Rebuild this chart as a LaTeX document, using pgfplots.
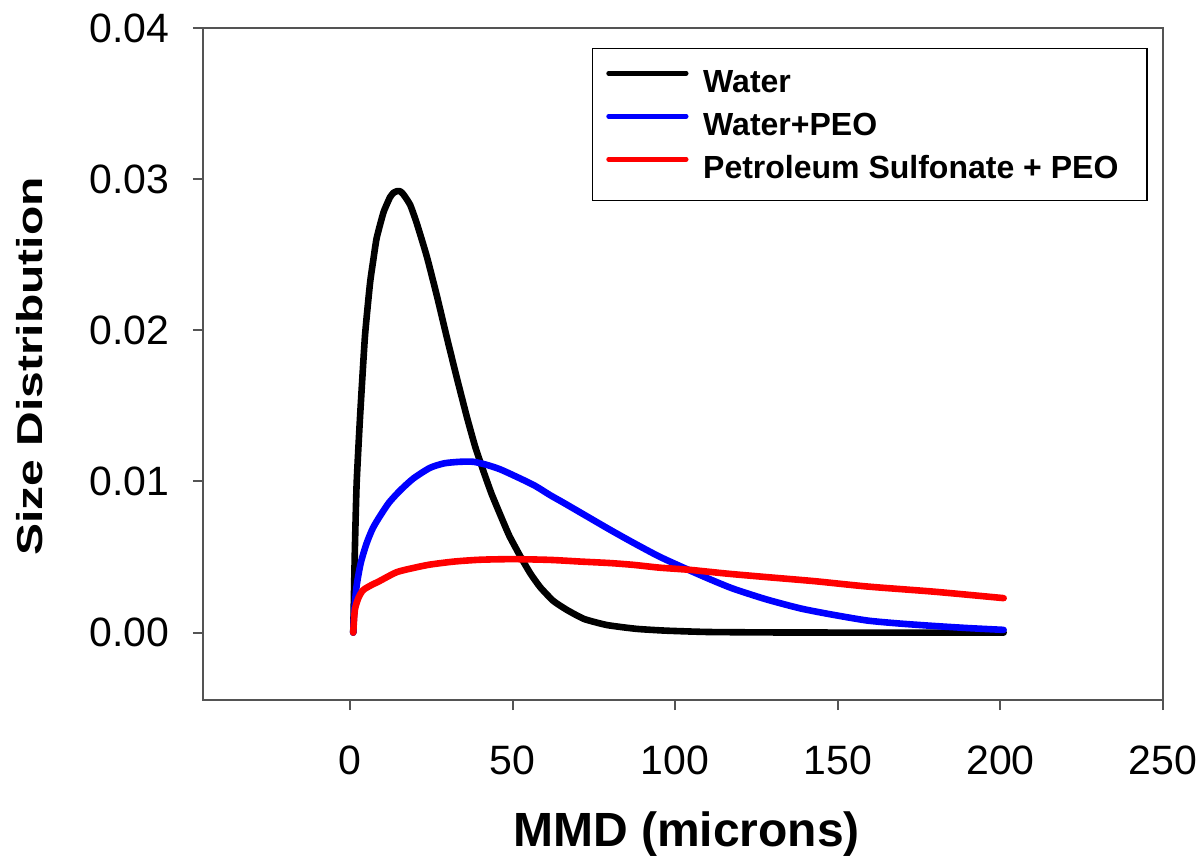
\documentclass[border=0pt]{standalone}
\usepackage{fontspec}
\setmainfont{Liberation Sans}
\usepackage{pgfplots}
\pgfplotsset{compat=1.18}
\definecolor{axgray}{gray}{0.33}
\definecolor{pblue}{RGB}{0,0,255}
\definecolor{pred}{RGB}{255,0,0}
\begin{document}
\begin{tikzpicture}
\path[use as bounding box] (-101.5pt,-79.5pt) rectangle (500.5pt,350pt);
\begin{axis}[
  at={(0,0)}, anchor=south west,
  scale only axis, width=480pt, height=336pt,
  xmin=-45.2, xmax=250, ymin=-0.00446, ymax=0.04,
  axis line style={axgray, line width=1pt},
  every tick/.style={axgray, line width=1pt},
  tick align=outside, major tick length=5pt,
  xtick={0,50,100,150,200,250},
  ytick={0,0.01,0.02,0.03,0.04},
  yticklabels={0.00,0.01,0.02,0.03,0.04},
  xtick pos=bottom, ytick pos=left,
  scaled y ticks=false,
  /pgf/number format/assume math mode=true,
  ticklabel style={font=\fontsize{20.5}{24}\selectfont, inner sep=0pt},
  xticklabel style={anchor=north},
  yticklabel style={anchor=east},
  xticklabel shift=17.75pt,
  yticklabel shift=11.5pt,
  xlabel={MMD (microns)},
  ylabel={Size Distribution},
  xlabel style={at={(axis description cs:0.5,0)}, anchor=base, inner sep=0pt,
    yshift=-73.3pt, xshift=1.75pt, font=\bfseries\fontsize{24}{28}\selectfont},
  ylabel style={at={(axis description cs:0,0.5)}, rotate=0, anchor=base, inner sep=0pt,
    yshift=80.15pt, xshift=-1.25pt, yscale=0.75, font=\bfseries\fontsize{24}{28}\selectfont},
  legend style={at={(axis description cs:1,1)}, anchor=north east,
    xshift=-7.75pt, yshift=-10pt, draw=black, line width=0.6pt, fill=white,
    inner xsep=0pt, inner ysep=9pt,
    font=\bfseries\fontsize{16}{19}\selectfont,
    nodes={inner sep=0pt, text height=13pt, text depth=2pt},
    row sep=6.5pt},
  legend cell align=left,
  legend image code/.code={%
    \draw[#1, line width=2.4pt, line cap=round] (6.4pt,4.2pt) -- (45.1pt,4.2pt);
    \path (0pt,0pt) (52pt,0pt);},
  every axis plot/.append style={line width=3.3pt, line join=round, line cap=round},
]
\addplot[black, smooth, tension=0.3] coordinates {
(1.0,0.0000) (1.5,0.0055) (2.05,0.0099) (3.1,0.0143) (4.6,0.0196)
(6.15,0.0231) (7.2,0.0247) (8.2,0.0261) (10.3,0.0278) (12.3,0.0288)
(13.4,0.0291) (14.4,0.0292) (15.4,0.0292) (16.4,0.0290) (18.5,0.0283)
(20.5,0.0271) (23.6,0.0249) (26.7,0.0223) (29.7,0.0196) (32.8,0.0169)
(35.9,0.0143) (38.5,0.0123) (41.0,0.0107) (43.5,0.0092) (46.2,0.0078)
(49.0,0.0064) (52.5,0.0050) (55.5,0.0039) (58.5,0.0030) (62.5,0.0021)
(66.7,0.0015) (72.0,0.0009) (79.0,0.0005) (88.0,0.00025) (97.0,0.00013)
(110,0.00004) (130,0.00001) (160,0.0) (201,0.0)
};
\addlegendentry{Water}
\addplot[pblue, smooth, tension=0.4] coordinates {
(1.0,0.0) (1.3,0.0014) (2.05,0.0031) (3.3,0.0046) (5.1,0.0059)
(7.0,0.0069) (9.2,0.0077) (12,0.0086) (15.4,0.0094) (19.5,0.0102)
(24.6,0.0109) (29,0.0112) (33.8,0.0113) (38,0.0113) (42,0.0111)
(46.2,0.0108) (52.3,0.0102) (57,0.0097) (61.5,0.0091) (65.6,0.0086)
(72,0.0078) (80,0.0068) (87.5,0.0059) (95.4,0.0050) (104.6,0.0041)
(111,0.0035) (117.9,0.0029) (128,0.0022) (138.5,0.0016) (148,0.0012)
(159,0.0008) (169,0.0006) (179.5,0.00044) (190,0.0003) (201,0.00018)
};
\addlegendentry{Water+PEO}
\addplot[pred, smooth, tension=0.4] coordinates {
(1.0,0.0) (1.5,0.0015) (2.6,0.0023) (4.0,0.0028) (6.2,0.0031)
(9.0,0.0034) (14.4,0.0040) (20,0.0043) (24.6,0.0045) (32,0.0047)
(40,0.00482) (50,0.00486) (61.5,0.00481) (70.8,0.0047) (80,0.0046)
(87.2,0.00448) (95,0.0043) (104.6,0.00415) (116,0.0039) (128.2,0.00367)
(143,0.0034) (159,0.00305) (180,0.0027) (201,0.00228)
};
\addlegendentry{Petroleum Sulfonate + PEO\rule{14.25pt}{0pt}}
\end{axis}
\end{tikzpicture}
\end{document}
